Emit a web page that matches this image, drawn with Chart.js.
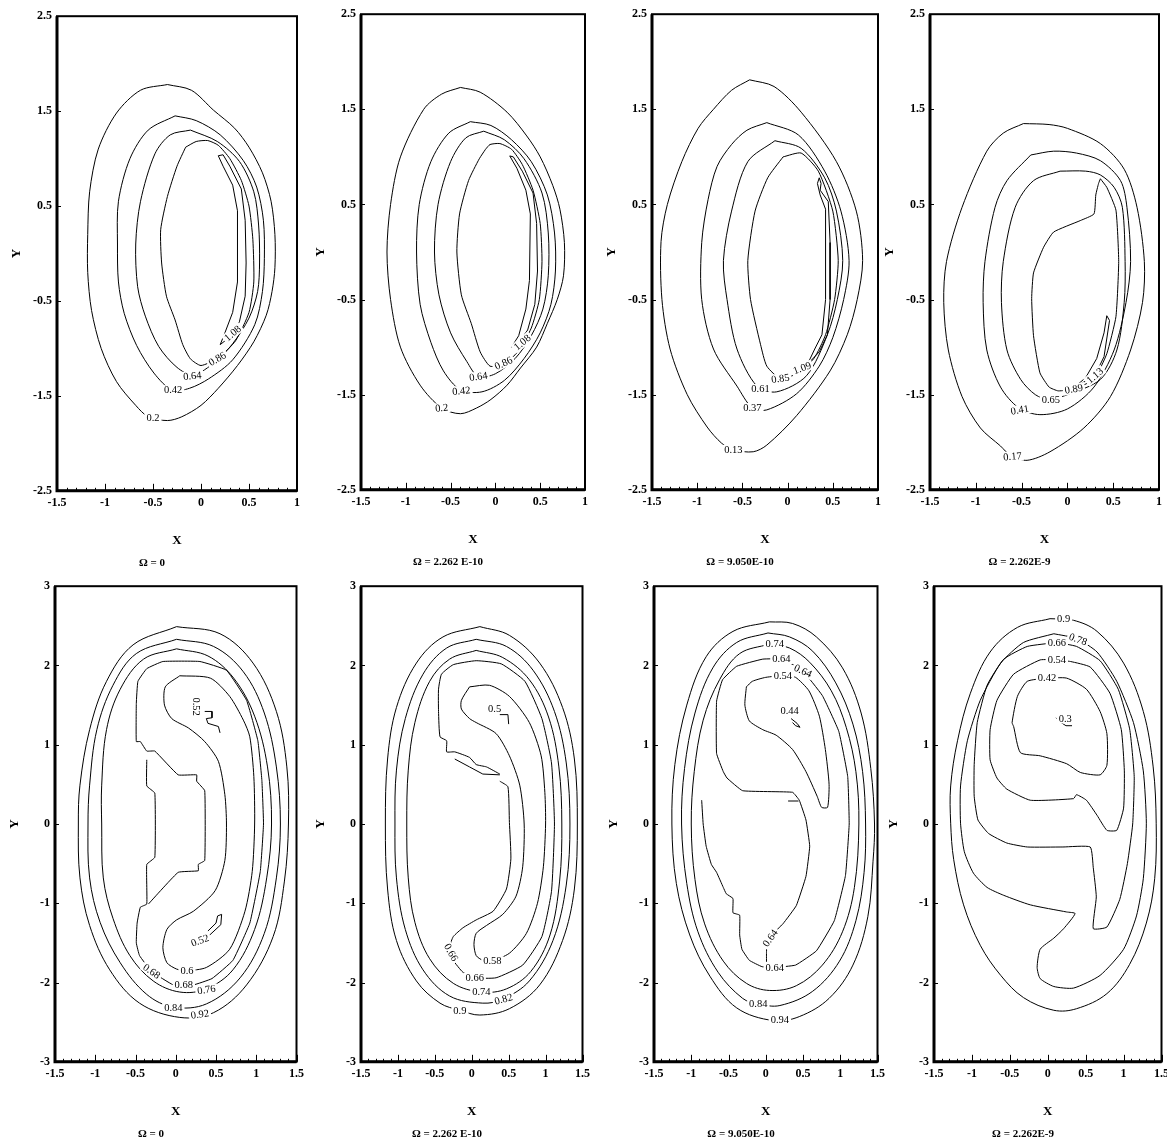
<!DOCTYPE html>
<html>
<head>
<meta charset="utf-8">
<script src="https://cdn.jsdelivr.net/npm/chart.js@4.4.0/dist/chart.umd.min.js"></script>
<style>
  body { margin: 0; background: #fff; width: 1167px; height: 1144px; position: relative; overflow: hidden; }
  canvas { position: absolute; }
</style>
</head>
<body>
<canvas id="p1"></canvas><canvas id="p2"></canvas><canvas id="p3"></canvas><canvas id="p4"></canvas>
<canvas id="p5"></canvas><canvas id="p6"></canvas><canvas id="p7"></canvas><canvas id="p8"></canvas>
<script>
// tick labels
const topXTicks = [-1.5, -1, -0.5, 0, 0.5, 1];
const topYTicks = [-2.5, -1.5, -0.5, 0.5, 1.5, 2.5];
const botXTicks = [-1.5, -1, -0.5, 0, 0.5, 1, 1.5];
const botYTicks = [-3, -2, -1, 0, 1, 2, 3];
const captions = ['Ω = 0', 'Ω = 2.262 E-10', 'Ω = 9.050E-10', 'Ω = 2.262E-9'];

// ---- top row, panel 1 (Ω = 0) ----
const p1_020 = [[-0.35,1.78],[-0.1,1.72],[0.13,1.51],[0.35,1.32],[0.5,1.12],[0.64,0.85],[0.73,0.55],[0.77,0.2],[0.77,-0.15],[0.74,-0.4],[0.68,-0.65],[0.55,-0.93],[0.38,-1.18],[0.18,-1.42],[0,-1.6],[-0.2,-1.72],[-0.35,-1.76],[-0.55,-1.72],[-0.68,-1.6],[-0.88,-1.35],[-1.04,-1],[-1.14,-0.6],[-1.18,-0.2],[-1.18,0.2],[-1.16,0.65],[-1.07,1.1],[-0.88,1.48],[-0.63,1.72],[-0.35,1.78]];
const p1_042 = [[-0.27,1.45],[-0.05,1.4],[0.2,1.25],[0.44,0.98],[0.58,0.7],[0.65,0.35],[0.66,-0.05],[0.64,-0.4],[0.56,-0.75],[0.33,-1.12],[0.08,-1.32],[-0.12,-1.42],[-0.3,-1.44],[-0.49,-1.26],[-0.67,-0.97],[-0.8,-0.63],[-0.86,-0.3],[-0.87,0.1],[-0.86,0.55],[-0.74,1],[-0.55,1.3],[-0.27,1.45]];
const p1_064 = [[-0.11,1.3],[0.17,1.18],[0.4,0.97],[0.55,0.65],[0.6,0.3],[0.61,-0.1],[0.59,-0.4],[0.5,-0.68],[0.33,-0.95],[0.15,-1.14],[-0.08,-1.28],[-0.25,-1.2],[-0.44,-0.98],[-0.58,-0.66],[-0.66,-0.35],[-0.68,0.1],[-0.63,0.55],[-0.48,1.05],[-0.32,1.25],[-0.11,1.3]];
const p1_086 = [[-0.16,1.12],[-0.05,1.18],[0.07,1.19],[0.18,1.14],[0.3,1],[0.42,0.77],[0.5,0.5],[0.54,0.15],[0.55,-0.3],[0.5,-0.62],[0.36,-0.92],[0.18,-1.1],[0,-1.18],[-0.11,-1.11],[-0.19,-0.96],[-0.27,-0.7],[-0.36,-0.45],[-0.41,-0.1],[-0.42,0.25],[-0.35,0.6],[-0.25,0.92],[-0.16,1.12]];
const p1_108 = [[0.18,1.03],[0.23,1.04],[0.3,0.92],[0.42,0.68],[0.46,0.35],[0.47,-0.1],[0.46,-0.45],[0.4,-0.72],[0.3,-0.88],[0.2,-0.96],[0.24,-0.86],[0.33,-0.62],[0.38,-0.3],[0.38,0.45],[0.33,0.72],[0.23,0.92],[0.18,1.03]];
const p1_labels = [['0.2',-0.5,-1.73,0],['0.42',-0.29,-1.44,0],['0.64',-0.09,-1.29,-5],['0.86',0.17,-1.11,-30],['1.08',0.33,-0.84,-40]];

// ---- top row, panel 2 (Ω = 2.262 E-10) ----
const p2_020 = [[-0.39,1.73],[-0.17,1.68],[0.13,1.47],[0.35,1.22],[0.5,1],[0.64,0.7],[0.72,0.45],[0.77,0.1],[0.76,-0.25],[0.69,-0.5],[0.58,-0.75],[0.46,-1],[0.28,-1.22],[0.13,-1.4],[-0.05,-1.55],[-0.21,-1.64],[-0.39,-1.7],[-0.6,-1.64],[-0.84,-1.4],[-1.06,-1],[-1.17,-0.5],[-1.21,0],[-1.17,0.5],[-1.06,1],[-0.8,1.5],[-0.6,1.66],[-0.39,1.73]];
const p2_042 = [[-0.28,1.37],[-0.05,1.33],[0.18,1.18],[0.4,0.95],[0.58,0.6],[0.66,0.2],[0.67,-0.2],[0.62,-0.55],[0.5,-0.85],[0.32,-1.12],[0.1,-1.35],[-0.15,-1.47],[-0.39,-1.45],[-0.58,-1.25],[-0.72,-0.95],[-0.84,-0.55],[-0.88,0],[-0.85,0.5],[-0.72,0.95],[-0.52,1.25],[-0.28,1.37]];
const p2_064 = [[-0.13,1.27],[0.1,1.18],[0.32,0.98],[0.52,0.62],[0.59,0.2],[0.59,-0.25],[0.53,-0.6],[0.4,-0.88],[0.22,-1.12],[0,-1.28],[-0.19,-1.31],[-0.32,-1.15],[-0.5,-0.85],[-0.63,-0.45],[-0.68,0],[-0.64,0.5],[-0.5,0.95],[-0.33,1.2],[-0.13,1.27]];
const p2_086 = [[-0.11,1.08],[-0.06,1.13],[0.05,1.14],[0.18,1.08],[0.3,0.92],[0.42,0.65],[0.5,0.3],[0.52,-0.1],[0.49,-0.5],[0.4,-0.8],[0.25,-1.05],[0.09,-1.18],[-0.06,-1.2],[-0.17,-1.05],[-0.27,-0.75],[-0.38,-0.45],[-0.43,0],[-0.4,0.4],[-0.3,0.75],[-0.18,0.98],[-0.11,1.08]];
const p2_108 = [[0.16,1.01],[0.2,1],[0.3,0.85],[0.42,0.62],[0.46,0.3],[0.47,-0.2],[0.44,-0.55],[0.36,-0.82],[0.24,-0.98],[0.18,-1],[0.26,-0.88],[0.34,-0.6],[0.38,-0.3],[0.39,0.4],[0.34,0.65],[0.24,0.88],[0.16,1.01]];
const p2_labels = [['0.2',-0.6,-1.64,-5],['0.42',-0.38,-1.46,-5],['0.64',-0.19,-1.31,-8],['0.86',0.09,-1.17,-25],['1.08',0.3,-0.95,-40]];

// ---- top row, panel 3 (Ω = 9.050E-10) ----
const p3_013 = [[-0.42,1.81],[-0.15,1.74],[0.15,1.47],[0.54,0.95],[0.76,0.43],[0.83,-0.09],[0.77,-0.5],[0.66,-0.87],[0.47,-1.25],[0.1,-1.72],[-0.23,-2.03],[-0.38,-2.1],[-0.6,-2.08],[-0.73,-2.01],[-0.89,-1.84],[-1.11,-1.5],[-1.3,-1.02],[-1.39,-0.5],[-1.4,0.11],[-1.33,0.5],[-1.17,0.95],[-0.99,1.3],[-0.82,1.5],[-0.62,1.7],[-0.42,1.81]];
const p3_037 = [[-0.23,1.36],[0.12,1.23],[0.41,0.85],[0.59,0.43],[0.68,-0.09],[0.62,-0.5],[0.5,-0.9],[0.35,-1.2],[0.1,-1.49],[-0.23,-1.66],[-0.39,-1.64],[-0.56,-1.41],[-0.82,-1.02],[-0.95,-0.5],[-0.95,0.1],[-0.88,0.55],[-0.78,0.9],[-0.62,1.13],[-0.45,1.28],[-0.23,1.36]];
const p3_061 = [[-0.14,1.17],[0.15,1.09],[0.41,0.78],[0.54,0.43],[0.61,-0.09],[0.55,-0.5],[0.44,-0.87],[0.21,-1.3],[-0.12,-1.47],[-0.34,-1.41],[-0.56,-1.02],[-0.67,-0.5],[-0.71,-0.09],[-0.62,0.43],[-0.44,0.95],[-0.14,1.17]];
const p3_085 = [[-0.05,1],[0.15,1.04],[0.34,0.85],[0.5,0.43],[0.56,-0.09],[0.52,-0.5],[0.42,-0.87],[0.29,-1.12],[0.1,-1.28],[-0.08,-1.33],[-0.23,-1.2],[-0.3,-0.97],[-0.41,-0.5],[-0.44,-0.09],[-0.36,0.43],[-0.22,0.78],[-0.05,1]];
const p3_109 = [[0.33,0.72],[0.35,0.78],[0.37,0.72],[0.36,0.65],[0.45,0.53],[0.47,0.1],[0.47,-0.5],[0.44,-0.87],[0.35,-1.05],[0.22,-1.18],[0.3,-1.02],[0.38,-0.87],[0.42,-0.5],[0.42,0.45],[0.36,0.6],[0.33,0.72]];
const p3_labels = [['0.13',-0.6,-2.08,0],['0.37',-0.39,-1.64,0],['0.61',-0.3,-1.44,0],['0.85',-0.08,-1.33,-8],['1.09',0.16,-1.22,-20]];

// ---- top row, panel 4 (Ω = 2.262E-9) ----
const p4_017 = [[-0.48,1.35],[-0.2,1.34],[0,1.3],[0.36,1.14],[0.62,0.87],[0.76,0.47],[0.84,-0.1],[0.82,-0.53],[0.69,-1.03],[0.47,-1.52],[0.18,-1.85],[-0.19,-2.1],[-0.44,-2.19],[-0.62,-2.14],[-0.73,-2.04],[-0.95,-1.85],[-1.15,-1.52],[-1.3,-1.03],[-1.35,-0.53],[-1.32,-0.1],[-1.15,0.47],[-0.88,1.06],[-0.7,1.25],[-0.48,1.35]];
const p4_041 = [[-0.4,1.02],[-0.15,1.06],[0.1,1.04],[0.36,0.96],[0.58,0.75],[0.65,0.47],[0.69,-0.1],[0.64,-0.53],[0.51,-1.03],[0.29,-1.42],[0,-1.65],[-0.3,-1.71],[-0.53,-1.64],[-0.73,-1.42],[-0.88,-1.03],[-0.92,-0.53],[-0.9,-0.1],[-0.79,0.47],[-0.66,0.75],[-0.4,1.02]];
const p4_065 = [[-0.08,0.85],[0.2,0.85],[0.36,0.81],[0.51,0.68],[0.6,0.47],[0.63,-0.1],[0.62,-0.53],[0.54,-1.03],[0.36,-1.34],[0,-1.5],[-0.2,-1.55],[-0.35,-1.5],[-0.51,-1.34],[-0.66,-1.03],[-0.72,-0.53],[-0.7,-0.1],[-0.57,0.47],[-0.37,0.75],[-0.08,0.85]];
const p4_089 = [[0.36,0.77],[0.43,0.68],[0.53,0.44],[0.56,-0.1],[0.53,-0.68],[0.43,-1.07],[0.29,-1.34],[0.07,-1.44],[-0.1,-1.46],[-0.2,-1.42],[-0.3,-1.27],[-0.37,-0.88],[-0.39,-0.49],[-0.37,-0.22],[-0.26,0.05],[-0.15,0.21],[0.14,0.33],[0.29,0.4],[0.31,0.6],[0.34,0.72],[0.36,0.77]];
const p4_113 = [[0.43,-0.67],[0.46,-0.72],[0.4,-1.1],[0.3,-1.3],[0.12,-1.4],[0.08,-1.42],[0.2,-1.32],[0.32,-1.12],[0.4,-0.85],[0.43,-0.67]];
const p4_labels = [['0.17',-0.6,-2.15,-5],['0.41',-0.52,-1.66,-10],['0.65',-0.18,-1.55,0],['0.89',0.07,-1.44,-10],['1.13',0.3,-1.3,-40]];

// ---- bottom row, panel 5 (Ω = 0) ----
const p5_092 = [[0.01,2.49],[0.55,2.4],[0.96,2.03],[1.25,1.42],[1.38,0.72],[1.4,0],[1.35,-0.72],[1.21,-1.42],[0.88,-2.03],[0.47,-2.38],[0.05,-2.44],[-0.45,-2.26],[-0.82,-1.84],[-1.07,-1.28],[-1.19,-0.68],[-1.21,0],[-1.19,0.49],[-1.07,1.19],[-0.86,1.8],[-0.53,2.26],[0.01,2.49]];
const p5_084 = [[0.01,2.33],[0.47,2.24],[0.84,1.92],[1.1,1.4],[1.25,0.72],[1.3,0],[1.25,-0.68],[1.1,-1.38],[0.8,-1.94],[0.38,-2.27],[-0.03,-2.31],[-0.36,-2.15],[-0.69,-1.75],[-0.94,-1.24],[-1.07,-0.68],[-1.09,0],[-1.07,0.49],[-0.98,1.19],[-0.78,1.75],[-0.49,2.15],[0.01,2.33]];
const p5_076 = [[0.01,2.21],[0.4,2.12],[0.72,1.84],[0.98,1.36],[1.14,0.72],[1.19,0],[1.13,-0.68],[0.98,-1.33],[0.71,-1.84],[0.38,-2.08],[0.05,-2.12],[-0.28,-1.98],[-0.57,-1.66],[-0.78,-1.19],[-0.9,-0.68],[-0.92,0],[-0.92,0.49],[-0.86,1.19],[-0.69,1.7],[-0.4,2.08],[0.01,2.21]];
const p5_068 = [[-0.36,0.81],[-0.36,0.48],[-0.26,0.39],[-0.26,-0.42],[-0.36,-0.51],[-0.36,-1.01],[-0.44,-1.05],[-0.48,-1.25],[-0.49,-1.5],[-0.45,-1.66],[-0.3,-1.86],[-0.03,-2.03],[0.22,-2.03],[0.45,-1.95],[0.71,-1.72],[0.92,-1.25],[1.05,-0.6],[1.09,0],[1.07,0.55],[1.02,1.05],[0.88,1.56],[0.63,1.94],[0.3,2.05],[-0.16,2.05],[-0.36,1.96],[-0.47,1.8],[-0.49,1.52],[-0.49,1.04],[-0.44,1.04],[-0.36,0.92],[-0.26,0.92],[0.03,0.62],[0.26,0.62],[0.26,0.54],[0.36,0.42],[0.36,-0.46],[0.28,-0.51],[0.28,-0.59],[0.03,-0.61],[-0.34,-1.01]];
const p5_060 = [[0.05,1.87],[-0.13,1.73],[-0.14,1.5],[-0.05,1.33],[0.16,1.21],[0.36,1.04],[0.53,0.79],[0.61,0.37],[0.63,0],[0.61,-0.46],[0.49,-0.84],[0.22,-1.1],[0.01,-1.21],[-0.11,-1.33],[-0.16,-1.56],[-0.11,-1.75],[0.01,-1.83],[0.13,-1.85],[0.38,-1.81],[0.67,-1.58],[0.86,-1.1],[0.95,-0.6],[0.98,0],[0.97,0.6],[0.92,1.1],[0.84,1.31],[0.67,1.61],[0.43,1.84],[0.05,1.87]];
const p5_052a = [[0.36,1.42],[0.45,1.42],[0.45,1.34],[0.38,1.33],[0.4,1.27],[0.53,1.23],[0.55,1.15]];
const p5_052b = [[0.38,-1.44],[0.56,-1.27],[0.57,-1.14],[0.52,-1.16],[0.5,-1.25],[0.4,-1.35]];
const p5_labels = [['0.52',0.26,1.48,90],['0.52',0.3,-1.47,-20],['0.6',0.14,-1.85,0],['0.68',-0.3,-1.86,35],['0.68',0.1,-2.03,0],['0.76',0.38,-2.09,-8],['0.84',-0.03,-2.32,0],['0.92',0.3,-2.4,-8]];

// ---- bottom row, panel 6 (Ω = 2.262 E-10) ----
const p6_090 = [[0.11,2.49],[0.51,2.38],[0.92,2.03],[1.23,1.47],[1.39,0.82],[1.43,0],[1.39,-0.82],[1.23,-1.47],[0.92,-2.03],[0.51,-2.33],[0.11,-2.41],[-0.16,-2.35],[-0.43,-2.26],[-0.75,-1.98],[-1.02,-1.47],[-1.14,-0.82],[-1.17,0],[-1.14,0.82],[-1.02,1.47],[-0.75,2.03],[-0.39,2.36],[0.11,2.49]];
const p6_082 = [[0.06,2.33],[0.47,2.24],[0.83,1.94],[1.12,1.42],[1.28,0.77],[1.33,0],[1.28,-0.77],[1.1,-1.47],[0.78,-1.98],[0.42,-2.21],[0.15,-2.26],[-0.3,-2.17],[-0.66,-1.84],[-0.9,-1.33],[-1.02,-0.68],[-1.04,0],[-1.02,0.68],[-0.9,1.33],[-0.66,1.89],[-0.34,2.22],[0.06,2.33]];
const p6_074 = [[0.06,2.19],[0.42,2.1],[0.78,1.82],[1.04,1.35],[1.18,0.72],[1.22,0],[1.19,-0.72],[1.06,-1.4],[0.8,-1.86],[0.47,-2.08],[0.13,-2.12],[-0.25,-2.01],[-0.57,-1.7],[-0.77,-1.24],[-0.86,-0.68],[-0.88,0],[-0.86,0.68],[-0.77,1.28],[-0.57,1.8],[-0.3,2.08],[0.06,2.19]];
const p6_066a = [[0.38,0.54],[0.49,0.47],[0.51,0.02],[0.53,-0.44],[0.47,-0.82],[0.29,-1.1],[0.06,-1.21],[-0.12,-1.31],[-0.25,-1.42],[-0.3,-1.55],[-0.25,-1.72],[-0.12,-1.87],[0.04,-1.94],[0.33,-1.94],[0.69,-1.78],[0.95,-1.42],[1.08,-0.85],[1.12,0],[1.08,0.77],[0.95,1.33],[0.72,1.8],[0.4,2.02],[0.06,2.06],[-0.25,2.01],[-0.41,1.89],[-0.45,1.7],[-0.45,1.42],[-0.43,1.1],[-0.34,1.05],[-0.34,0.91],[-0.23,0.91],[-0.03,0.84],[0.06,0.75],[0.2,0.72],[0.38,0.63]];
const p6_066b = [[-0.23,0.82],[-0.03,0.72],[0.15,0.63],[0.38,0.62]];
const p6_058 = [[-0.03,1.73],[-0.14,1.56],[-0.14,1.45],[-0.03,1.33],[0.06,1.28],[0.33,1.14],[0.51,0.86],[0.65,0.49],[0.71,0],[0.69,-0.54],[0.6,-0.91],[0.42,-1.14],[0.2,-1.28],[0.06,-1.38],[0.03,-1.52],[0.06,-1.66],[0.15,-1.72],[0.26,-1.73],[0.51,-1.63],[0.74,-1.38],[0.89,-1],[0.97,-0.54],[1,0],[0.99,0.4],[0.94,0.86],[0.78,1.28],[0.51,1.61],[0.24,1.75],[-0.03,1.73]];
const p6_050 = [[0.38,1.38],[0.49,1.38],[0.5,1.26]];
const p6_labels = [['0.5',0.31,1.46,0],['0.58',0.28,-1.73,0],['0.66',-0.28,-1.62,60],['0.66',0.04,-1.94,0],['0.74',0.13,-2.12,0],['0.82',0.43,-2.21,-15],['0.9',-0.16,-2.35,0]];

// ---- bottom row, panel 7 (Ω = 9.050E-10) ----
const p7_094 = [[0.05,2.55],[0.36,2.53],[0.68,2.36],[1.03,1.97],[1.28,1.4],[1.41,0.7],[1.46,0],[1.44,-0.47],[1.37,-1.17],[1.17,-1.78],[0.85,-2.2],[0.45,-2.43],[0.1,-2.48],[-0.39,-2.32],[-0.75,-1.92],[-1.02,-1.4],[-1.2,-0.75],[-1.26,0],[-1.22,0.75],[-1.06,1.5],[-0.8,2.11],[-0.44,2.43],[0.05,2.55]];
const p7_084 = [[0.03,2.41],[0.32,2.36],[0.63,2.18],[0.94,1.78],[1.17,1.26],[1.3,0.66],[1.34,0],[1.32,-0.61],[1.21,-1.22],[0.99,-1.73],[0.63,-2.11],[0.19,-2.29],[-0.1,-2.27],[-0.31,-2.2],[-0.64,-1.87],[-0.91,-1.36],[-1.06,-0.75],[-1.13,0],[-1.09,0.7],[-0.95,1.4],[-0.71,1.97],[-0.39,2.29],[0.03,2.41]];
const p7_074 = [[0.05,2.27],[0.32,2.22],[0.59,2.04],[0.88,1.68],[1.08,1.22],[1.21,0.66],[1.25,0],[1.19,-0.8],[1.03,-1.36],[0.76,-1.78],[0.41,-2.04],[0.05,-2.1],[-0.26,-2.01],[-0.57,-1.73],[-0.82,-1.26],[-0.95,-0.7],[-1,0],[-0.96,0.66],[-0.84,1.31],[-0.62,1.82],[-0.35,2.15],[0.05,2.27]];
const p7_064a = [[-0.86,0.3],[-0.84,0],[-0.8,-0.28],[-0.73,-0.51],[-0.66,-0.61],[-0.57,-0.8],[-0.53,-0.88],[-0.44,-0.94],[-0.44,-1.12],[-0.35,-1.15],[-0.35,-1.4],[-0.32,-1.58],[-0.22,-1.72],[-0.05,-1.8],[0.12,-1.81],[0.4,-1.78],[0.68,-1.6],[0.92,-1.22],[1.07,-0.65],[1.12,0],[1.1,0.6],[0.98,1.17],[0.76,1.62],[0.48,1.95],[0.21,2.08],[-0.04,2.08],[-0.39,1.99],[-0.58,1.82],[-0.66,1.55],[-0.66,0.89],[-0.57,0.66],[-0.52,0.58],[-0.31,0.42],[0.36,0.4],[0.45,0.3],[0.54,0.05],[0.59,-0.28],[0.54,-0.66],[0.41,-1.03],[0.23,-1.26],[0.08,-1.4],[0.02,-1.5],[0.01,-1.61],[0.01,-1.74]];
const p7_064b = [[0.3,0.29],[0.44,0.29]];
const p7_054 = [[-0.26,1.73],[-0.28,1.5],[-0.22,1.3],[-0.04,1.19],[0.14,1.12],[0.36,0.94],[0.54,0.66],[0.69,0.35],[0.75,0.21],[0.83,0.21],[0.85,0.5],[0.8,0.94],[0.72,1.36],[0.58,1.68],[0.4,1.85],[0.23,1.87],[0,1.85],[-0.18,1.8],[-0.26,1.73]];
const p7_044 = [[0.34,1.33],[0.42,1.27],[0.46,1.22],[0.4,1.24],[0.36,1.28]];
const p7_labels = [['0.74',0.12,2.27,0],['0.64',0.21,2.08,0],['0.64',0.5,1.93,25],['0.54',0.23,1.87,0],['0.44',0.32,1.43,0],['0.64',0.06,-1.44,-55],['0.64',0.12,-1.81,0],['0.84',-0.1,-2.27,0],['0.94',0.19,-2.47,0]];

// ---- bottom row, panel 8 (Ω = 2.262E-9) ----
const p8_090 = [[0.03,2.59],[0.34,2.57],[0.65,2.43],[1,2.03],[1.26,1.42],[1.39,0.72],[1.43,0.01],[1.41,-0.69],[1.3,-1.25],[1.08,-1.77],[0.78,-2.14],[0.38,-2.33],[0.08,-2.35],[-0.32,-2.19],[-0.62,-1.91],[-0.89,-1.53],[-1.11,-1.02],[-1.24,-0.45],[-1.28,0.01],[-1.28,0.48],[-1.19,1.05],[-1.02,1.65],[-0.76,2.17],[-0.4,2.48],[0.03,2.59]];
const p8_078 = [[0.08,2.4],[0.38,2.34],[0.65,2.17],[0.91,1.8],[1.13,1.28],[1.26,0.67],[1.3,0.01],[1.26,-0.69],[1.17,-1.16],[1,-1.58],[0.69,-1.91],[0.34,-2.07],[0.08,-2.05],[-0.1,-1.95],[-0.14,-1.81],[-0.1,-1.58],[0.08,-1.44],[0.21,-1.32],[0.36,-1.13],[0.25,-1.11],[-0.23,-1.02],[-0.58,-0.9],[-0.8,-0.8],[-0.98,-0.62],[-1.1,-0.35],[-1.15,0.01],[-1.15,0.48],[-1.06,1.05],[-0.89,1.56],[-0.62,2.03],[-0.32,2.29],[0.08,2.4]];
const p8_066 = [[0.12,2.29],[0.38,2.24],[0.69,2.06],[0.93,1.7],[1.08,1.2],[1.14,0.6],[1.12,0],[1.05,-0.5],[0.95,-0.95],[0.78,-1.3],[0.6,-1.32],[0.64,-0.92],[0.6,-0.55],[0.56,-0.29],[0.2,-0.29],[-0.27,-0.29],[-0.54,-0.24],[-0.78,-0.12],[-0.92,0.05],[-0.97,0.35],[-0.97,0.75],[-0.93,1.28],[-0.8,1.75],[-0.58,2.08],[-0.27,2.24],[0.12,2.29]];
const p8_054 = [[0.12,2.07],[0.3,2.05],[0.56,1.98],[0.82,1.65],[0.97,1.19],[1.01,0.67],[1,0.2],[0.91,-0.08],[0.78,-0.08],[0.65,0.11],[0.51,0.3],[0.38,0.37],[0.34,0.32],[-0.23,0.3],[-0.54,0.44],[-0.67,0.58],[-0.76,0.81],[-0.76,1.19],[-0.67,1.56],[-0.45,1.89],[-0.1,2.07],[0.12,2.07]];
const p8_042 = [[-0.01,1.84],[0.25,1.84],[0.51,1.7],[0.69,1.42],[0.78,1.14],[0.78,0.74],[0.69,0.62],[0.43,0.65],[0.25,0.76],[-0.1,0.86],[-0.36,0.9],[-0.45,1.23],[-0.47,1.28],[-0.4,1.61],[-0.27,1.8],[-0.01,1.84]];
const p8_030 = [[0.11,1.34],[0.16,1.29],[0.24,1.24],[0.32,1.24]];
const p8_labels = [['0.9',0.21,2.59,0],['0.78',0.4,2.33,20],['0.66',0.12,2.29,0],['0.54',0.12,2.07,0],['0.42',-0.01,1.84,0],['0.3',0.23,1.33,0]];

const panels = [
  { id: 'p1', box: [57, 14, 297, 491], top: true, cap: captions[0], lines: [[p1_020, 0.3], [p1_042, 0.3], [p1_064, 0.3], [p1_086, 0.2], [p1_108, 0]], labels: p1_labels },
  { id: 'p2', box: [361, 12, 585, 490], top: true, cap: captions[1], lines: [[p2_020, 0.3], [p2_042, 0.3], [p2_064, 0.3], [p2_086, 0.2], [p2_108, 0]], labels: p2_labels },
  { id: 'p3', box: [652, 12, 878, 490], top: true, cap: captions[2], lines: [[p3_013, 0.3], [p3_037, 0.3], [p3_061, 0.3], [p3_085, 0.2], [p3_109, 0]], labels: p3_labels },
  { id: 'p4', box: [930, 12, 1159, 490], top: true, cap: captions[3], lines: [[p4_017, 0.3], [p4_041, 0.3], [p4_065, 0.3], [p4_089, 0.15], [p4_113, 0]], labels: p4_labels },
  { id: 'p5', box: [55, 584, 297, 1062], top: false, cap: captions[0], lines: [[p5_092, 0.35], [p5_084, 0.35], [p5_076, 0.35], [p5_068, 0.1], [p5_060, 0.25], [p5_052a, 0], [p5_052b, 0]], labels: p5_labels },
  { id: 'p6', box: [361, 584, 583, 1062], top: false, cap: captions[1], lines: [[p6_090, 0.35], [p6_082, 0.35], [p6_074, 0.35], [p6_066a, 0.15], [p6_066b, 0], [p6_058, 0.25], [p6_050, 0]], labels: p6_labels },
  { id: 'p7', box: [654, 584, 878, 1062], top: false, cap: captions[2], lines: [[p7_094, 0.35], [p7_084, 0.35], [p7_074, 0.35], [p7_064a, 0.1], [p7_064b, 0], [p7_054, 0.2], [p7_044, 0]], labels: p7_labels },
  { id: 'p8', box: [934, 584, 1162, 1062], top: false, cap: captions[3], lines: [[p8_090, 0.35], [p8_078, 0.2], [p8_066, 0.15], [p8_054, 0.15], [p8_042, 0.2], [p8_030, 0]], labels: p8_labels }
];

const serif = '"Liberation Serif", "DejaVu Serif", serif';
const tickFont = { family: serif, size: 12, weight: 'bold' };
const titleFont = { family: serif, size: 13, weight: 'bold' };
const capFont = { family: serif, size: 11, weight: 'bold' };

// contour value labels, white box under the text cuts the line like the plotter did
const contourLabels = {
  id: 'contourLabels',
  afterDatasetsDraw(chart, args, opts) {
    const { ctx, scales: { x, y } } = chart;
    ctx.save();
    ctx.font = '10.5px ' + serif;
    ctx.textAlign = 'center';
    ctx.textBaseline = 'middle';
    (opts.items || []).forEach(([text, vx, vy, rot]) => {
      ctx.save();
      ctx.translate(x.getPixelForValue(vx), y.getPixelForValue(vy));
      ctx.rotate(rot * Math.PI / 180);
      const w = ctx.measureText(text).width;
      ctx.fillStyle = '#fff';
      ctx.fillRect(-w / 2 - 2, -5, w + 4, 10);
      ctx.fillStyle = '#000';
      ctx.fillText(text, 0, 0.5);
      ctx.restore();
    });
    ctx.restore();
  }
};

// box frame + inward tick marks
const frameTicks = {
  id: 'frameTicks',
  afterDraw(chart) {
    const { ctx, chartArea: a, scales: { x, y } } = chart;
    ctx.save();
    ctx.strokeStyle = '#000';
    ctx.lineWidth = 1;
    ctx.beginPath();
    const n = Math.round((x.max - x.min) * 10);
    for (let i = 0; i <= n; i++) {
      const px = Math.round(x.getPixelForValue(x.min + i / 10)) + 0.5;
      const len = i % 5 === 0 ? 7 : 3;
      ctx.moveTo(px, a.bottom);
      ctx.lineTo(px, a.bottom - len);
    }
    y.ticks.forEach(t => {
      const py = Math.round(y.getPixelForValue(t.value)) + 0.5;
      ctx.moveTo(a.left, py);
      ctx.lineTo(a.left + 4, py);
    });
    ctx.stroke();
    ctx.lineWidth = 2;
    ctx.strokeRect(a.left, a.top, a.right - a.left, a.bottom - a.top);
    ctx.lineWidth = 3;
    ctx.beginPath();
    ctx.moveTo(a.left, a.top);
    ctx.lineTo(a.left, a.bottom);
    ctx.lineTo(a.right, a.bottom);
    ctx.stroke();
    ctx.restore();
  }
};

function makeChart(p) {
  const [L, T, R, B] = p.box;
  const cv = document.getElementById(p.id);
  cv.width = R - L + 62;
  cv.height = B - T + 92;
  cv.style.left = (L - 50) + 'px';
  cv.style.top = (T - 10) + 'px';
  const xt = p.top ? topXTicks : botXTicks;
  const yt = p.top ? topYTicks : botYTicks;

  new Chart(cv, {
    type: 'scatter',
    data: {
      datasets: p.lines.map(([pts, t]) => ({
        data: pts.map(([x, y]) => ({ x, y })),
        showLine: true,
        tension: t,
        borderColor: '#000',
        borderWidth: 1,
        pointRadius: 0,
        fill: false
      }))
    },
    options: {
      responsive: false,
      animation: false,
      events: [],
      layout: { padding: { left: 0, top: 10, right: 12, bottom: 0 } },
      scales: {
        x: {
          type: 'linear',
          min: xt[0],
          max: xt[xt.length - 1],
          afterBuildTicks: s => { s.ticks = xt.map(v => ({ value: v })); },
          afterFit: s => { s.height = 62; },
          grid: { display: false, drawTicks: false },
          border: { display: false },
          ticks: { padding: 5, color: '#000', font: tickFont, maxRotation: 0, autoSkip: false, callback: v => String(v) },
          title: { display: true, text: 'X', color: '#000', font: titleFont, padding: { top: 4, bottom: 4 } }
        },
        y: {
          type: 'linear',
          min: yt[0],
          max: yt[yt.length - 1],
          afterBuildTicks: s => { s.ticks = yt.map(v => ({ value: v })); },
          afterFit: s => { s.width = 50; },
          grid: { display: false, drawTicks: false },
          border: { display: false },
          ticks: { padding: 5, color: '#000', font: tickFont, autoSkip: false, callback: v => String(v) },
          title: { display: true, text: 'Y', color: '#000', font: titleFont, padding: { top: 2, bottom: 2 } }
        }
      },
      plugins: {
        legend: { display: false },
        tooltip: { enabled: false },
        title: { display: true, position: 'bottom', text: p.cap, color: '#000', font: capFont, padding: { top: 4, bottom: 3 } },
        contourLabels: { items: p.labels }
      }
    },
    plugins: [contourLabels, frameTicks]
  });
}

panels.forEach(makeChart);
</script>
</body>
</html>
